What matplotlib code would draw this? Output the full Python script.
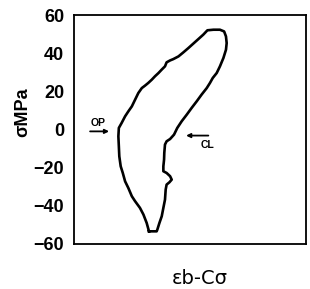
import matplotlib
matplotlib.use("Agg")
import matplotlib.pyplot as plt

# Loop (x in arbitrary strain units 0-100, y in MPa).
strain = [32.3, 31.3, 29.9, 28.4, 26.3, 24.9, 23.4, 22.0, 21.0, 20.1,
	19.5, 19.3, 19.1, 19.3, 20.5, 22.0, 23.4, 24.9, 26.3, 27.7,
	29.2, 30.6, 32.0, 33.5, 34.9, 36.4, 37.8, 39.2, 39.9, 41.4,
	42.8, 45.0, 47.1, 49.3, 51.4, 53.6, 55.7, 57.5, 60.1, 62.9,
	64.7, 65.5, 65.8, 65.5, 64.4, 62.9, 61.5, 59.8, 58.6, 57.2,
	55.0, 52.9, 50.7, 48.6, 46.4, 44.5, 43.1, 41.4, 39.9, 39.2,
	38.9, 38.8, 38.5, 38.5, 39.9, 41.4, 42.1, 41.1, 39.9, 39.5,
	39.2, 38.5, 37.8, 36.8, 35.9, 35.6, 32.3]
stress = [-53.4, -49.0, -44.6, -41.1, -37.6, -35.0, -30.7, -27.2, -22.8, -19.3,
	-14.1, -8.8, -3.6, 0.8, 3.4, 6.9, 9.5, 12.1, 15.6, 19.1,
	21.7, 23.0, 24.4, 26.1, 27.9, 29.6, 31.4, 33.1, 35.2, 36.2,
	36.9, 38.3, 40.4, 42.7, 45.0, 47.4, 49.7, 52.0, 52.3, 52.3,
	51.4, 48.8, 45.3, 41.8, 37.5, 33.1, 29.6, 27.0, 24.4, 21.7,
	18.3, 14.8, 11.3, 7.8, 4.3, 0.8, -2.7, -5.0, -6.2, -7.9,
	-12.3, -15.8, -19.3, -21.9, -22.8, -24.5, -26.3, -27.7, -28.9, -31.5,
	-36.8, -41.1, -45.5, -49.0, -52.5, -53.4, -53.4]

yticks = [-60, -40, -20, 0, 20, 40, 60]

# Marker labels: text, text position, arrow start, arrow end.
op_label = ("OP", (10.3, 3.4), (6.9, -1.0), (15.1, -1.0))
cl_label = ("CL", (57.5, -7.9), (57.9, -3.2), (48.3, -3.2))

fig = plt.figure(figsize=(3.10, 2.89), dpi=100)
ax = fig.add_axes([0.239, 0.156, 0.748, 0.792])

ax.plot(strain, stress, color="black", linewidth=1.9)

# Arrows with their labels.
for text, text_pos, start, end in (op_label, cl_label):
	ax.annotate("", xy=end, xytext=start,
		arrowprops=dict(arrowstyle="-|>", color="black", lw=1.3,
			mutation_scale=6, shrinkA=0, shrinkB=0))
	ax.text(text_pos[0], text_pos[1], text, ha="center", va="center",
		fontsize=7.5, fontweight="bold", family="Liberation Sans")

ax.set_xlim(0, 100)
ax.set_ylim(-60, 60)
ax.set_xticks([])
ax.set_yticks(yticks)
ax.set_yticklabels([str(t).replace("-", "\u2212") for t in yticks],
	fontsize=13, fontweight="bold", family="Liberation Sans")
ax.tick_params(axis="y", length=0, pad=7)

for spine in ax.spines.values():
	spine.set_linewidth(1.3)

ax.set_ylabel("σMPa", fontsize=13, fontweight="bold",
	family="Liberation Sans")
ax.yaxis.set_label_coords(-0.185, 0.575)
ax.set_xlabel("εb-Cσ", fontsize=14, family="DejaVu Sans")
ax.xaxis.set_label_coords(0.54, -0.11)

fig.savefig("out.png", dpi=100)
plt.close("all")
